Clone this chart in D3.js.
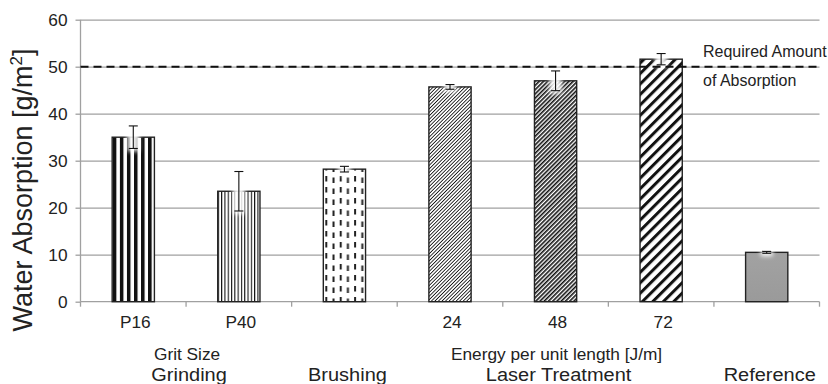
<!DOCTYPE html>
<html>
<head>
<meta charset="utf-8">
<script src="https://cdn.jsdelivr.net/npm/d3@7"></script>
<style>
  html, body { margin: 0; padding: 0; background: #fff; }
  svg { display: block; font-family: "Liberation Sans", Arial, Helvetica, sans-serif; }
</style>
</head>
<body>
<svg id="chart" width="828" height="384"></svg>
<script>
// ---- data ----
const categories = ["P16", "P40", "Brushing", "24", "48", "72", "Reference"];
const tickLabels = ["P16", "P40", "", "24", "48", "72", ""];
const values = [35.0, 23.5, 28.2, 45.7, 47.0, 51.6, 10.5];
const errors = [2.4, 4.2, 0.6, 0.5, 2.1, 1.2, 0.2];
const fillKinds = ["darkVert", "lightVert", "dashVert", "lightDiag", "midDiag", "wideDiag", "solidGray"];
const yTicks = [0, 10, 20, 30, 40, 50, 60];
const requiredAmount = 50;
const requiredLabel = ["Required Amount", "of Absorption"];
const subLabels = [
  { text: "Grit Size", first: "P16", last: "P40" },
  { text: "Energy per unit length [J/m]", first: "24", last: "72" }
];
const groupLabels = [
  { text: "Grinding", first: "P16", last: "P40" },
  { text: "Brushing", first: "Brushing", last: "Brushing" },
  { text: "Laser Treatment", first: "24", last: "72" },
  { text: "Reference", first: "Reference", last: "Reference" }
];

// ---- layout ----
const svg = d3.select("#chart");
const plot = { left: 80.5, right: 819.5, top: 19.7, bottom: 301.7 };
const gridColor = "#a0a0a0";
const widen = 1.08;   // horizontal stretch of the label type

const x = d3.scaleBand()
  .domain(categories)
  .range([plot.left, plot.right])
  .paddingInner(0.6)
  .paddingOuter(0.3);

const y = d3.scaleLinear().domain([0, 60]).range([plot.bottom, plot.top]);

// ---- fill patterns ----
const defs = svg.append("defs");

function stripes(id, period, thick, angle) {
  const p = defs.append("pattern")
    .attr("id", id)
    .attr("patternUnits", "userSpaceOnUse")
    .attr("width", period)
    .attr("height", 10)
    .attr("patternTransform", angle ? `rotate(${angle})` : null);
  p.append("rect").attr("width", period).attr("height", 10).attr("fill", "#fff");
  p.append("rect").attr("x", 0).attr("width", thick).attr("height", 10).attr("fill", "#111");
}
stripes("darkVert", 7.05, 3.6, 0);
stripes("lightVert", 3.3, 1.1, 0);
stripes("lightDiag", 2.5, 0.85, 45);
stripes("midDiag", 3.0, 1.6, 45);
stripes("wideDiag", 7.4, 3.0, 45);

const dash = defs.append("pattern")
  .attr("id", "dashVert")
  .attr("patternUnits", "userSpaceOnUse")
  .attr("x", x("Brushing") + 2)
  .attr("width", 14.4)
  .attr("height", 11);
dash.append("rect").attr("width", 14.4).attr("height", 11).attr("fill", "#fff");
dash.append("rect").attr("x", 0).attr("y", 0).attr("width", 2).attr("height", 5.5).attr("fill", "#222");
dash.append("rect").attr("x", 7.2).attr("y", 1.5).attr("width", 2).attr("height", 5.5).attr("fill", "#222");

const grayGrad = defs.append("linearGradient").attr("id", "solidGray")
  .attr("x1", 0).attr("y1", 0).attr("x2", 0).attr("y2", 1);
grayGrad.append("stop").attr("offset", "0").attr("stop-color", "#a2a2a2");
grayGrad.append("stop").attr("offset", "1").attr("stop-color", "#9a9a9a");

const glow = defs.append("filter").attr("id", "glow")
  .attr("x", "-100%").attr("y", "-100%").attr("width", "300%").attr("height", "300%");
glow.append("feGaussianBlur").attr("stdDeviation", 2.2);

// ---- gridlines ----
svg.append("g")
  .attr("transform", `translate(${plot.left},0)`)
  .call(d3.axisLeft(y).tickValues(yTicks.slice(1)).tickSize(-(plot.right - plot.left)).tickFormat(""))
  .call(g => g.select(".domain").remove())
  .call(g => g.selectAll("line").attr("stroke", gridColor).attr("stroke-width", 1.3));

// ---- y axis ----
const yAxis = svg.append("g")
  .attr("transform", `translate(${plot.left},0)`)
  .call(d3.axisLeft(y).tickValues(yTicks).tickSize(5).tickPadding(0));
yAxis.select(".domain").attr("stroke", gridColor).attr("stroke-width", 1.3)
  .attr("d", `M0,${plot.top}V${plot.bottom}`);
yAxis.selectAll(".tick line").attr("stroke", gridColor).attr("stroke-width", 1.3);
yAxis.selectAll(".tick text")
  .attr("x", 0).attr("dy", null)
  .attr("transform", `translate(-13,5.5) scale(${widen},1)`)
  .attr("font-size", 16).attr("fill", "#222")
  .style("font-family", "inherit");

// ---- x axis line and category boundary ticks ----
svg.append("line")
  .attr("x1", plot.left).attr("x2", plot.right)
  .attr("y1", y(0)).attr("y2", y(0))
  .attr("stroke", gridColor).attr("stroke-width", 1.3);

const half = (x.step() - x.bandwidth()) / 2;
const bounds = categories.map(c => x(c) - half).concat([x(categories[categories.length - 1]) + x.bandwidth() + half]);
svg.append("g").selectAll("line").data(bounds).join("line")
  .attr("x1", d => d).attr("x2", d => d)
  .attr("y1", y(0)).attr("y2", y(0) + 5)
  .attr("stroke", gridColor).attr("stroke-width", 1.3);

// ---- bars ----
const bars = svg.append("g");
bars.selectAll("rect").data(categories).join("rect")
  .attr("x", d => x(d))
  .attr("y", (d, i) => y(values[i]))
  .attr("width", x.bandwidth())
  .attr("height", (d, i) => y(0) - y(values[i]))
  .attr("fill", (d, i) => `url(#${fillKinds[i]})`)
  .attr("stroke", "#222")
  .attr("stroke-width", 1.4);

// ---- error bars with a soft halo ----
const err = svg.append("g");
categories.forEach((c, i) => {
  const cx = x(c) + x.bandwidth() / 2;
  const hi = y(values[i] + errors[i]);
  const lo = y(values[i] - errors[i]);
  err.append("rect")
    .attr("x", cx - 6).attr("y", hi - 2)
    .attr("width", 12).attr("height", lo - hi + 5)
    .attr("fill", "#fff").attr("opacity", 0.9)
    .attr("filter", "url(#glow)");
  err.append("line").attr("x1", cx).attr("x2", cx).attr("y1", hi).attr("y2", lo)
    .attr("stroke", "#111").attr("stroke-width", 1.1);
  [hi, lo].forEach(v => err.append("line")
    .attr("x1", cx - 4.5).attr("x2", cx + 4.5).attr("y1", v).attr("y2", v)
    .attr("stroke", "#111").attr("stroke-width", 1.1));
});

// ---- required amount line ----
svg.append("line")
  .attr("x1", plot.left).attr("x2", plot.right)
  .attr("y1", y(requiredAmount)).attr("y2", y(requiredAmount))
  .attr("stroke", "#111").attr("stroke-width", 2)
  .attr("stroke-dasharray", "8,5");

svg.append("text").attr("x", 703).attr("y", y(requiredAmount) - 10)
  .attr("font-size", 16).attr("fill", "#222").text(requiredLabel[0]);
svg.append("text").attr("x", 703).attr("y", y(requiredAmount) + 19.5)
  .attr("font-size", 16).attr("fill", "#222").text(requiredLabel[1]);

// ---- category tick labels ----
const xAxis = svg.append("g")
  .attr("transform", `translate(0,${y(0)})`)
  .call(d3.axisBottom(x).tickSize(0).tickPadding(0).tickFormat((d, i) => tickLabels[i]));
xAxis.select(".domain").remove();
xAxis.selectAll(".tick text")
  .attr("y", 0).attr("dy", null)
  .attr("transform", `translate(2,26.5) scale(${widen},1)`)
  .attr("font-size", 16).attr("fill", "#222")
  .style("font-family", "inherit");

// ---- two-level group labels ----
function center(a, b) { return (x(a) + x(b) + x.bandwidth()) / 2; }
function hText(tx, ty, str, size) {
  svg.append("text")
    .attr("transform", `translate(${tx},${ty}) scale(${widen},1)`)
    .attr("text-anchor", "middle")
    .attr("font-size", size).attr("fill", "#222")
    .text(str);
}
subLabels.forEach(s => hText(center(s.first, s.last) + 1, 359.5, s.text, 16));
groupLabels.forEach(s => hText(center(s.first, s.last) + 3, 381, s.text, 18.5));

// ---- y axis title ----
const yt = svg.append("text")
  .attr("transform", `translate(32,190) rotate(-90)`)
  .attr("text-anchor", "middle")
  .attr("font-size", 27).attr("fill", "#222");
yt.append("tspan").text("Water Absorption [g/m");
yt.append("tspan").attr("font-size", 17).attr("dy", -10).text("2");
yt.append("tspan").attr("dy", 10).text("]");
</script>
</body>
</html>
